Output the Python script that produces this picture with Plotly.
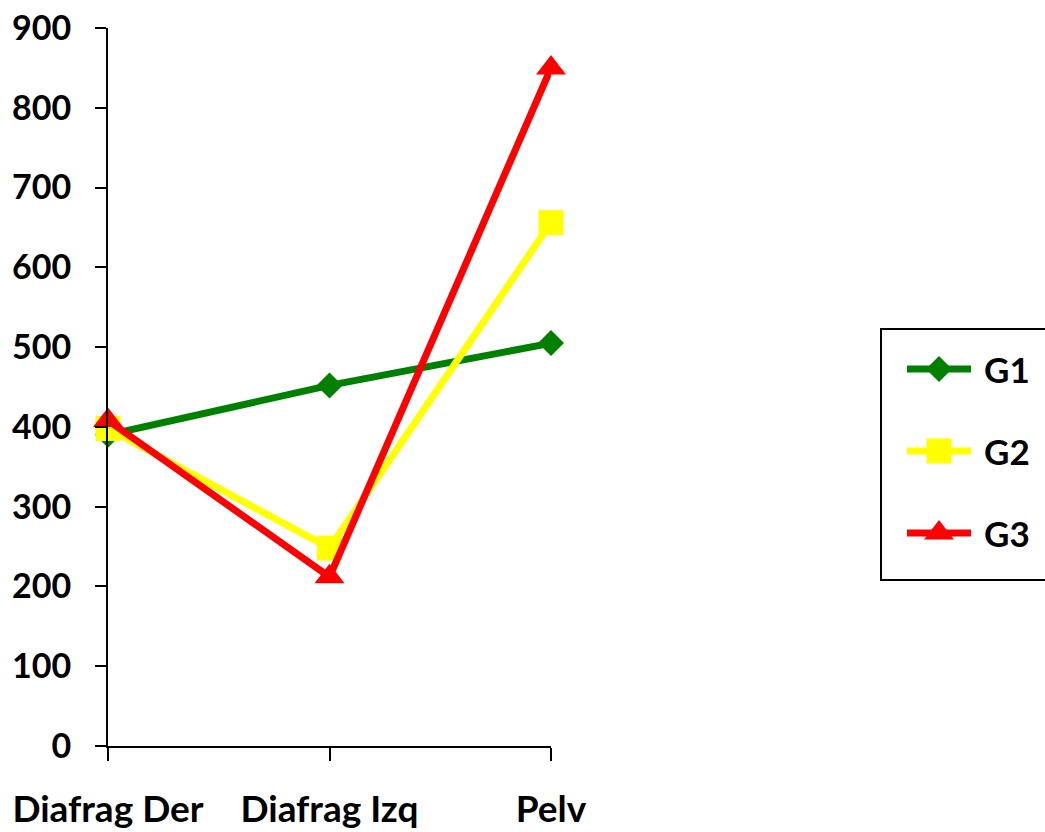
import plotly.graph_objects as go

categories = ["Diafrag Der", "Diafrag Izq", "Pelv"]
g1 = [390, 452, 505]
g2 = [398, 248, 656]
g3 = [408, 212, 850]
y_ticks = [0, 100, 200, 300, 400, 500, 600, 700, 800, 900]

FONT = "Lato"
W, H = 1045, 832
ML, MT, MB = 108, 28, 86
PLOT_W = W - ML
PLOT_H = H - MT - MB

series = [
    ("G1", g1, "#008000", "diamond", 20),
    ("G2", g2, "#FFFF00", "square", 25),
    ("G3", g3, "#FF0000", "triangle-up", 26),
]

fig = go.Figure()
for name, vals, color, sym, size in series:
    fig.add_trace(go.Scatter(
        x=categories, y=vals, name=name, mode="lines+markers",
        line=dict(color=color, width=7),
        marker=dict(symbol=sym, size=size, color=color),
        cliponaxis=False, showlegend=False,
        xaxis="x", yaxis="y",
    ))

# Legend box drawn in its own pixel-scaled axes on the right
LEG_L, LEG_T, LEG_B = 881, 329, 580
leg_rows = [369, 451, 533]
for (name, vals, color, sym, size), ry in zip(series, leg_rows):
    fig.add_trace(go.Scatter(
        x=[907, 971], y=[ry, ry], mode="lines",
        line=dict(color=color, width=7),
        cliponaxis=False, showlegend=False, hoverinfo="skip",
        xaxis="x2", yaxis="y2",
    ))
    fig.add_trace(go.Scatter(
        x=[939], y=[ry], mode="markers",
        marker=dict(symbol=sym, size=size, color=color),
        cliponaxis=False, showlegend=False, hoverinfo="skip",
        xaxis="x2", yaxis="y2",
    ))
    fig.add_annotation(
        x=982, y=ry, xref="x2", yref="y2", text=name, showarrow=False,
        xanchor="left", yanchor="middle",
        font=dict(family=FONT, size=35, color="black", weight="bold"),
    )

fig.add_shape(
    type="rect", xref="paper", yref="paper",
    x0=(LEG_L - ML) / PLOT_W, x1=(W + 3 - ML) / PLOT_W,
    y0=(H - MB - LEG_B) / PLOT_H, y1=(H - MB - LEG_T) / PLOT_H,
    line=dict(color="black", width=2), fillcolor="rgba(0,0,0,0)",
)

fig.update_layout(
    width=W, height=H,
    margin=dict(l=ML, r=0, t=MT, b=MB),
    paper_bgcolor="white", plot_bgcolor="white",
    font=dict(family=FONT, size=34, color="black"),
    showlegend=False,
    xaxis=dict(
        domain=[0, (551 - ML) / PLOT_W],
        type="category", range=[0, 2], showgrid=False, automargin=False,
        showline=True, linecolor="black", linewidth=2,
        ticks="outside", ticklen=13, tickwidth=2, tickcolor="black",
        tickfont=dict(family=FONT, size=37, color="black", weight="bold"),
        ticklabelstandoff=17,
    ),
    yaxis=dict(
        range=[0, 900], tickvals=y_ticks, showgrid=False, zeroline=False,
        automargin=False,
        showline=True, linecolor="black", linewidth=2,
        ticks="outside", ticklen=11, tickwidth=2, tickcolor="black",
        tickfont=dict(family=FONT, size=34, color="black", weight="bold"),
        ticklabelstandoff=17,
    ),
    xaxis2=dict(
        domain=[(LEG_L - ML) / PLOT_W, 1], range=[LEG_L, W],
        visible=False, anchor="y2", fixedrange=True,
    ),
    yaxis2=dict(
        domain=[(H - MB - LEG_B) / PLOT_H, (H - MB - LEG_T) / PLOT_H],
        range=[LEG_B, LEG_T], visible=False, anchor="x2", fixedrange=True,
    ),
)

fig.write_html("out.html")
